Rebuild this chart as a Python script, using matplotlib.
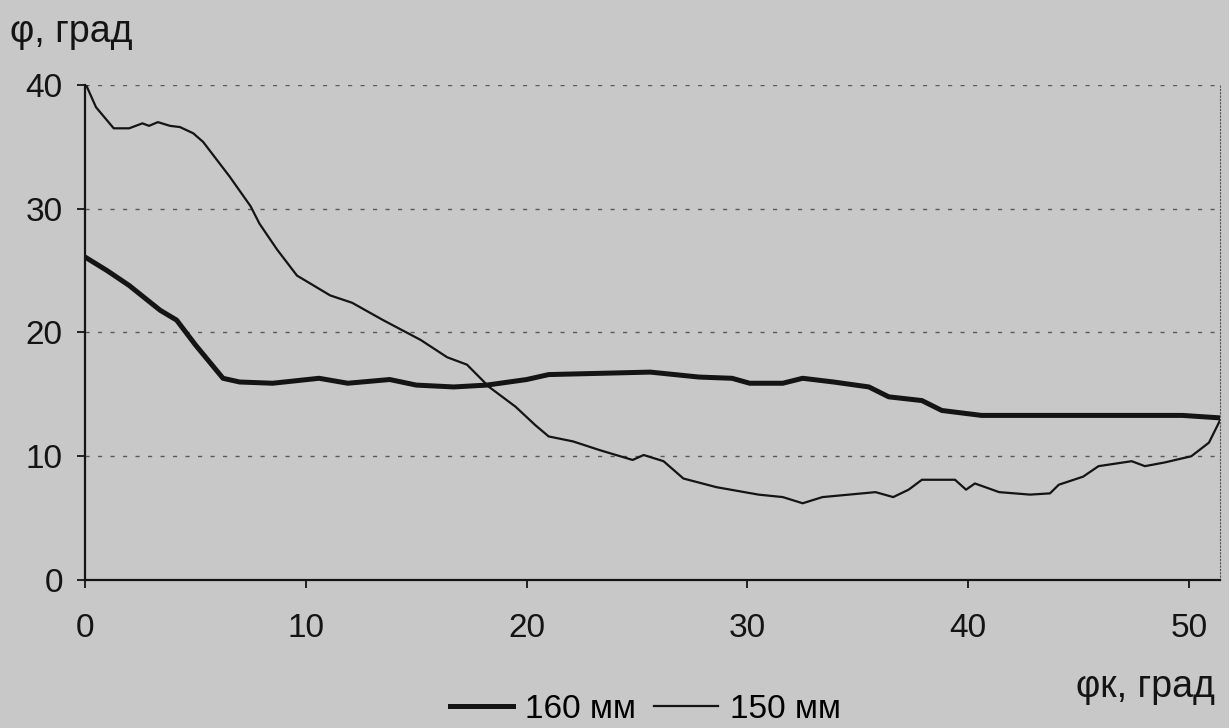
import matplotlib
matplotlib.use("Agg")
import matplotlib.pyplot as plt

plt.rcParams["font.family"] = ["Liberation Sans", "DejaVu Sans"]

# Series: 160 мм (thick)
x160 = [0, 1.0, 2.0, 3.4, 4.15, 5.0, 6.25, 7.0, 8.5, 10.6, 11.9, 13.8, 15.0, 16.7, 18.2,
        20.0, 21.0, 23.3, 25.6, 27.8, 29.3, 30.1, 31.6, 32.5, 33.9, 35.5, 36.4, 37.9,
        38.8, 40.6, 45.0, 49.7, 51.4]
y160 = [26.1, 25.0, 23.8, 21.8, 21.0, 19.0, 16.3, 16.0, 15.9, 16.3, 15.9, 16.2, 15.75,
        15.6, 15.75, 16.2, 16.6, 16.7, 16.8, 16.4, 16.3, 15.9, 15.9, 16.3, 16.0, 15.6,
        14.8, 14.5, 13.7, 13.3, 13.3, 13.3, 13.1]

# Series: 150 мм (thin)
x150 = [0, 0.5, 1.3, 2.0, 2.6, 2.9, 3.3, 3.85, 4.3, 4.9, 5.35, 6.55, 7.5, 7.9, 8.7, 9.6,
        11.1, 12.1, 13.5, 15.2, 16.4, 17.3, 18.3, 19.5, 20.4, 21.0, 22.1, 23.3, 24.8,
        25.3, 26.2, 27.1, 28.6, 30.5, 31.6, 32.5, 33.4, 34.6, 35.8, 36.6, 37.3, 37.9,
        39.4, 39.9, 40.3, 41.4, 42.8, 43.7, 44.1, 45.2, 45.9, 47.4, 48.0, 48.9, 50.1,
        50.9, 51.4]
y150 = [40.2, 38.2, 36.5, 36.5, 36.9, 36.7, 37.0, 36.7, 36.6, 36.1, 35.4, 32.6, 30.2,
        28.8, 26.7, 24.6, 23.0, 22.4, 21.0, 19.4, 18.0, 17.4, 15.6, 14.0, 12.5, 11.6,
        11.2, 10.5, 9.7, 10.1, 9.6, 8.2, 7.5, 6.9, 6.7, 6.2, 6.7, 6.9, 7.1, 6.7, 7.3,
        8.1, 8.1, 7.3, 7.8, 7.1, 6.9, 7.0, 7.7, 8.35, 9.2, 9.6, 9.2, 9.5, 10.0, 11.1, 12.9]

series_labels = ["160 мм", "150 мм"]
x_ticks = [0, 10, 20, 30, 40, 50]
y_ticks = [0, 10, 20, 30, 40]

bg = "#c8c8c8"
ink = "#141414"
fig = plt.figure(figsize=(12.29, 7.28), dpi=100, facecolor=bg)
ax = fig.add_axes([85 / 1229, 1 - 580 / 728, (1220 - 85) / 1229, (580 - 85) / 728])
ax.set_facecolor(bg)

l1, = ax.plot(x160, y160, color=ink, lw=3.6, label=series_labels[0])
l2, = ax.plot(x150, y150, color=ink, lw=1.6, label=series_labels[1])

ax.set_xlim(0, 51.4)
ax.set_ylim(0, 40)
ax.set_xticks(x_ticks)
ax.set_yticks(y_ticks)
ax.tick_params(axis="y", labelsize=24, color=ink, width=1.3, length=6, pad=10, labelcolor=ink)
ax.tick_params(axis="x", labelsize=24, color=ink, width=1.3, length=6, pad=18, labelcolor=ink)

ax.grid(axis="y", color="#5a5a5a", lw=1.0, ls=(0, (3, 6)))
ax.spines["top"].set_visible(False)
ax.spines["right"].set_linestyle((0, (1, 2)))
ax.spines["right"].set_color("#555555")
for s in ["left", "bottom"]:
    ax.spines[s].set_linewidth(1.6)
    ax.spines[s].set_color(ink)

fig.text(10 / 1229, 1 - 42 / 728, "φ, град", fontsize=27, va="baseline", ha="left", color=ink)
fig.text(1215 / 1229, 1 - 697 / 728, "φк, град", fontsize=27, va="baseline", ha="right", color=ink)

fig.legend(handles=[l1, l2], loc="center", bbox_to_anchor=(645 / 1229, 1 - 709 / 728),
           ncol=2, frameon=False, fontsize=24, handlelength=1.9, columnspacing=0.55,
           handletextpad=0.36, borderpad=0.0, borderaxespad=0.0)

fig.savefig("out.png", dpi=100, facecolor=bg)
